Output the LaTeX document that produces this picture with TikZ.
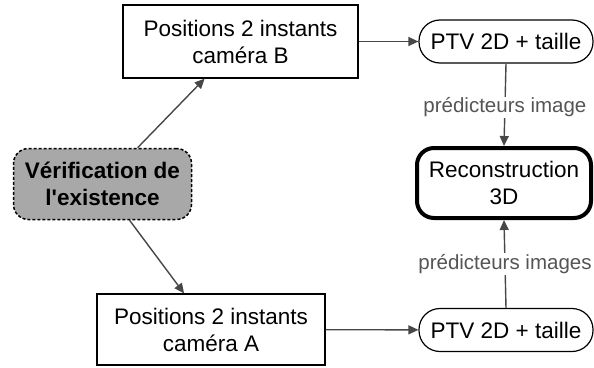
\documentclass[tikz,border=0pt]{standalone}
\usepackage{fontspec}
\setmainfont{Liberation Sans}
\usetikzlibrary{arrows.meta}
\definecolor{wire}{HTML}{474747}
\definecolor{check}{HTML}{A8A8A8}
\definecolor{lbltext}{HTML}{555555}

\begin{document}
\begin{tikzpicture}[
  x=1pt, y=-1pt,
  font=\fontsize{22.5}{27}\selectfont,
  posbox/.style={draw=black, line width=1.2pt, align=center, inner sep=0pt},
  ptv/.style={draw=black, line width=1.2pt, rounded corners=21pt, inner sep=0pt,
    minimum width=174pt, minimum height=43pt},
  recon/.style={draw=black, line width=4pt, rounded corners=17pt, align=center, inner sep=0pt,
    minimum width=174pt, minimum height=70pt},
  checkbox/.style={draw=black, dash pattern=on 3pt off 2pt, line width=1.5pt, fill=check,
    rounded corners=15pt, align=center, inner sep=0pt, minimum width=178pt, minimum height=71pt,
    font=\fontsize{22.5}{27}\selectfont\bfseries},
  flow/.style={-{Triangle[length=10pt, width=9pt]}, wire, line width=1.4pt},
  pred/.style={fill=white, text=lbltext, inner sep=1pt, font=\fontsize{20.5}{24}\selectfont},
]
\useasboundingbox (0,0) rectangle (594,367);

% ---- position boxes, one per camera ----
\node[posbox, minimum width=235pt, minimum height=73pt] (posB) at (240.5,41.5)
  {Positions 2 instants\\caméra B};
\node[posbox, minimum width=228pt, minimum height=71pt] (posA) at (211,329.5)
  {Positions 2 instants\\caméra A};

% ---- existence check ----
\node[checkbox] (verif) at (102.5,184) {Vérification de\\l\textquotesingle existence};

% ---- 2D tracking and reconstruction ----
\node[ptv] (ptvB) at (506,41.5) {PTV 2D + taille};
\node[ptv] (ptvA) at (506,330) {PTV 2D + taille};
\node[recon] (rec3d) at (504,183) {Reconstruction\\3D};

% ---- connectors ----
\draw[flow] (verif) -- (posB);
\draw[flow] (verif) -- (posA);
\draw[flow] (posB) -- (ptvB);
\draw[flow] (posA) -- (ptvA);
\draw[flow] (ptvB.south) -- node[pred, pos=0.53] {prédicteurs image} (rec3d.north);
\draw[flow] (ptvA.north) -- node[pred, pos=0.5] {prédicteurs images} (rec3d.south);

\end{tikzpicture}
\end{document}
